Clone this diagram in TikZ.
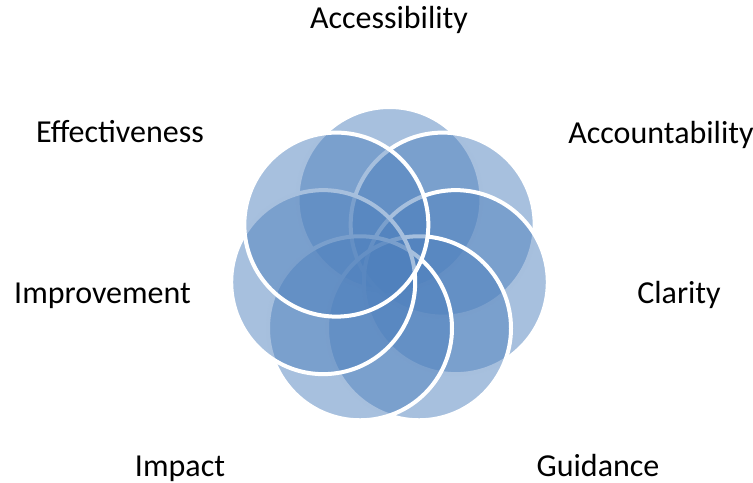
\documentclass[tikz,border=0pt]{standalone}
\usepackage{fontspec}
\setmainfont{Carlito}
\usetikzlibrary{calc}
\definecolor{ringblue}{HTML}{4F81BD}
\tikzset{
  ring/.style={circle, minimum size=138pt, inner sep=0pt, fill=ringblue, fill opacity=0.5, draw=white, draw opacity=1, line width=3pt},
  lbl/.style={anchor=base, inner sep=0pt, text=black, font=\fontsize{24}{28}\selectfont}
}
\begin{document}
\begin{tikzpicture}[x=0.75pt,y=-0.75pt]
\useasboundingbox (0,0) rectangle (753,482);
\coordinate (c) at (389.5,267);
\node[ring] (r0) at ($(c)+(90:51pt)$) {};
\node[ring] (r1) at ($(c)+(90-51.4286:51pt)$) {};
\node[ring] (r2) at ($(c)+(90-102.857:51pt)$) {};
\node[ring] (r3) at ($(c)+(90-154.286:51pt)$) {};
\node[ring] (r4) at ($(c)+(90-205.714:51pt)$) {};
\node[ring] (r5) at ($(c)+(90-257.143:51pt)$) {};
\node[ring] (r6) at ($(c)+(90-308.571:51pt)$) {};
\node[lbl] (l0) at (389,28) {Accessibility};
\node[lbl] (l1) at (661,143) {Accountability};
\node[lbl] (l2) at (679,303) {Clarity};
\node[lbl] (l3) at (598,476) {Guidance};
\node[lbl] (l4) at (180,476) {Impact};
\node[lbl] (l5) at (102.5,303) {Improvement};
\node[lbl] (l6) at (120,142) {Effectiveness};
\end{tikzpicture}
\end{document}
